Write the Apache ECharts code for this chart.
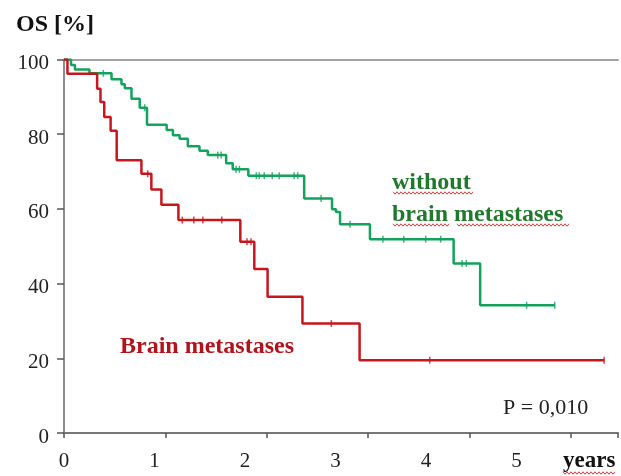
<!DOCTYPE html>
<html>
<head>
<meta charset="utf-8">
<script src="https://cdn.jsdelivr.net/npm/echarts@6/dist/echarts.min.js"></script>
<style>
  html, body { margin: 0; padding: 0; background: #fff; }
  #chart { width: 621px; height: 476px; }
</style>
</head>
<body>
<div id="chart"></div>
<script>
// Kaplan–Meier overall survival, time in years, survival in %
const redTimes = [0, 0.034, 0.327, 0.36, 0.397, 0.46, 0.52, 0.764, 0.862, 0.961, 1.129, 1.740, 1.878, 2.009, 2.353, 2.917, 5.33];
const redSurv  = [100, 96.2, 92.2, 88.6, 84.6, 80.9, 73.0, 69.4, 65.2, 61.1, 57.0, 51.2, 43.9, 36.5, 29.3, 19.5, 19.5];
const redCensored = [0.826, 1.167, 1.281, 1.370, 1.557, 1.806, 1.846, 2.638, 3.609, 5.33];

const greenTimes = [0, 0.069, 0.108, 0.251, 0.469, 0.567, 0.600, 0.666, 0.747, 0.819, 1.013, 1.075, 1.141, 1.222, 1.337, 1.419, 1.600, 1.665, 1.819, 2.370, 2.645, 2.684, 2.724, 3.019, 3.845, 4.107, 4.843];
const greenSurv  = [100, 98.5, 97.3, 96.3, 94.7, 93.4, 92.3, 89.5, 87.1, 82.5, 81.1, 79.7, 78.8, 76.8, 75.6, 74.4, 72.2, 70.6, 68.9, 62.8, 59.9, 59.2, 55.9, 51.9, 45.4, 34.2, 34.2];
const greenCensored = [0.388, 0.796, 1.517, 1.551, 1.698, 1.731, 1.898, 1.927, 1.976, 2.055, 2.124, 2.271, 2.306, 2.537, 2.822, 3.147, 3.353, 3.569, 3.717, 3.928, 3.970, 4.565, 4.843];

const yTicks = [0, 20, 40, 60, 80, 100];
const xTickLabels = ['0', '1', '2', '3', '4', '5'];

const RED = '#c8161e';
const GREEN = '#13a35c';
const SERIF = '"Liberation Serif", "Times New Roman", serif';

function pairs(ts, ss) { return ts.map((t, i) => [t, ss[i]]); }
function survAt(ts, ss, t) {
  let s = ss[0];
  for (let i = 0; i < ts.length; i++) if (ts[i] <= t) s = ss[i];
  return s;
}
function censorPoints(cs, ts, ss) { return cs.map(t => [t, survAt(ts, ss, t)]); }

// spell-check style squiggle under a word
function squiggle(x0, x1, y) {
  const pts = [];
  let up = true;
  for (let x = x0; x <= x1; x += 2) { pts.push([x, y + (up ? -1.2 : 1.2)]); up = !up; }
  return { type: 'polyline', silent: true, shape: { points: pts },
           style: { stroke: '#e23a3a', lineWidth: 1, fill: null } };
}

const chart = echarts.init(document.getElementById('chart'), null, { renderer: 'canvas' });

chart.setOption({
  animation: false,
  backgroundColor: '#fff',
  title: {
    text: 'OS [%]', left: 11, top: 8,
    textStyle: { fontFamily: SERIF, fontSize: 24, fontWeight: 'bold', color: '#111' }
  },
  grid: { left: 64, right: 1, top: 59.5, bottom: 43, containLabel: false },
  xAxis: [
    { // tick scale
      type: 'value', position: 'bottom', min: 0, max: 5.467, interval: 1,
      axisLine: { show: true, lineStyle: { color: '#777', width: 2 } },
      axisTick: { show: true, length: 5, lineStyle: { color: '#555', width: 1.5 } },
      axisLabel: { show: false }, splitLine: { show: false }
    },
    { // year labels
      type: 'value', position: 'bottom', offset: 0, min: 0, max: 6.123, interval: 1,
      axisLine: { show: false }, axisTick: { show: false }, splitLine: { show: false },
      axisLabel: {
        margin: 18, fontFamily: SERIF, fontSize: 21, color: '#222',
        formatter: v => (v <= 5 ? xTickLabels[v] : '')
      }
    },
    { // top frame line
      type: 'value', position: 'top', min: 0, max: 1,
      axisLine: { show: true, lineStyle: { color: '#a3a3a3', width: 2 } },
      axisTick: { show: false }, axisLabel: { show: false }, splitLine: { show: false }
    }
  ],
  yAxis: {
    type: 'value', min: 0, max: 100, interval: 20,
    axisLine: { show: true, lineStyle: { color: '#666', width: 1.5 } },
    axisTick: { show: true, length: 7, lineStyle: { color: '#555', width: 1.5 } },
    axisLabel: {
      margin: 15, color: '#222',
      formatter: v => (yTicks.includes(v) ? '{v|' + v + '}' : ''),
      rich: { v: { fontFamily: SERIF, fontSize: 21, color: '#222', padding: [8, 0, 0, 0] } }
    },
    splitLine: { show: false }
  },
  series: [
    {
      name: 'without brain metastases', type: 'line', step: 'end', xAxisIndex: 0,
      data: pairs(greenTimes, greenSurv), showSymbol: false,
      lineStyle: { color: GREEN, width: 2.5 }, z: 3
    },
    {
      name: 'without censored', type: 'scatter', xAxisIndex: 0,
      data: censorPoints(greenCensored, greenTimes, greenSurv),
      symbol: 'rect', symbolSize: [1.5, 7], itemStyle: { color: GREEN }, z: 4
    },
    {
      name: 'Brain metastases', type: 'line', step: 'end', xAxisIndex: 0,
      data: pairs(redTimes, redSurv), showSymbol: false,
      lineStyle: { color: RED, width: 2.5 }, z: 3
    },
    {
      name: 'brain censored', type: 'scatter', xAxisIndex: 0,
      data: censorPoints(redCensored, redTimes, redSurv),
      symbol: 'rect', symbolSize: [1.5, 7], itemStyle: { color: RED }, z: 4
    }
  ],
  graphic: [
    { type: 'text', left: 392, top: 171, silent: true,
      style: { text: 'without', font: 'bold 24px ' + SERIF, fill: '#1f7a2c' } },
    { type: 'text', left: 392, top: 203, silent: true,
      style: { text: 'brain metastases', font: 'bold 24px ' + SERIF, fill: '#1f7a2c' } },
    { type: 'text', left: 120, top: 335, silent: true,
      style: { text: 'Brain metastases', font: 'bold 24px ' + SERIF, fill: '#b3121a' } },
    { type: 'text', left: 503, top: 397, silent: true,
      style: { text: 'P = 0,010', font: '22px ' + SERIF, fill: '#222' } },
    { type: 'text', left: 563, top: 450, silent: true,
      style: { text: 'years', font: 'bold 23px ' + SERIF, fill: '#111' } },
    squiggle(393, 473, 193),
    squiggle(393, 449, 225),
    squiggle(457, 570, 225),
    squiggle(563, 615, 473)
  ]
});
</script>
</body>
</html>
